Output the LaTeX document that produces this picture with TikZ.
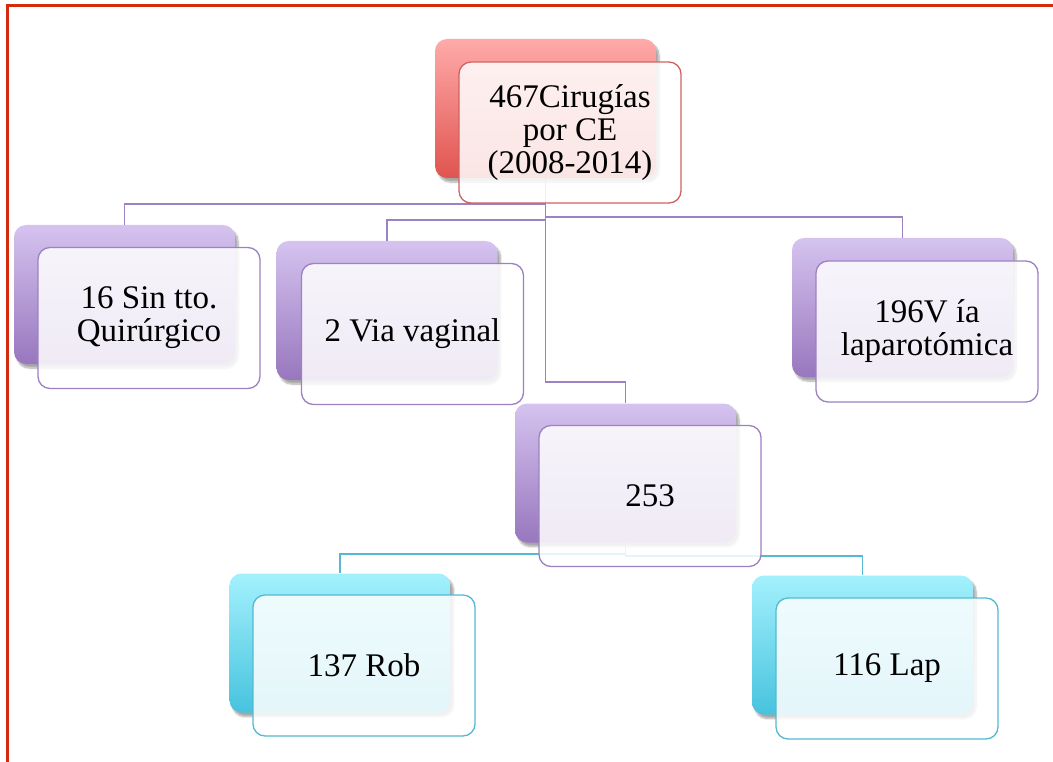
\documentclass[tikz,border=0pt]{standalone}
\usepackage{fontspec}
\setmainfont{Liberation Serif}
\usetikzlibrary{shadows.blur}

\definecolor{framered}{HTML}{D42A0E}
\definecolor{redtop}{HTML}{FFAAAA}
\definecolor{redbot}{HTML}{E0544E}
\definecolor{redline}{HTML}{D06262}
\definecolor{purtop}{HTML}{D5C3EF}
\definecolor{purbot}{HTML}{9877BE}
\definecolor{purline}{HTML}{9C82C2}
\definecolor{cyantop}{HTML}{A3F1FD}
\definecolor{cyanbot}{HTML}{47C3DE}
\definecolor{cyanline}{HTML}{55B9D2}

\tikzset{
  backbox/.style={rectangle, rounded corners=12pt, minimum width=221pt,
    minimum height=139pt, inner sep=0pt,
    blur shadow={shadow xshift=3pt, shadow yshift=-4pt, shadow blur steps=8,
      shadow opacity=35}},
  redback/.style={backbox, top color=redtop, bottom color=redbot},
  purback/.style={backbox, top color=purtop, bottom color=purbot},
  cyanback/.style={backbox, top color=cyantop, bottom color=cyanbot},
  frontbox/.style={rectangle, rounded corners=12pt, minimum width=222pt,
    minimum height=141pt, inner sep=0pt, line width=1.3pt, fill=white,
    fill opacity=0.85, text opacity=1, align=center,
    font=\fontsize{33}{33}\selectfont},
  redfront/.style={frontbox, draw=redline},
  purfront/.style={frontbox, draw=purline},
  cyanfront/.style={frontbox, draw=cyanline},
  purlink/.style={draw=purline, line width=1.6pt},
  cyanlink/.style={draw=cyanline, line width=1.6pt},
}

\begin{document}
\begin{tikzpicture}[x=1pt, y=-1pt]
\useasboundingbox (0,0) rectangle (1053,762);

% page frame
\draw[framered, line width=3pt] (1060,6) -- (7.5,6) -- (7.5,770);

% back cards
\node[redback]  (rootB) at (545.5,108.5) {};
\node[purback]  (sinB)  at (124.5,294.5) {};
\node[purback]  (vagB)  at (387,310.5) {};
\node[purback]  (larB)  at (902.5,307.5) {};
\node[purback]  (midB)  at (625.5,473) {};
\node[cyanback] (robB)  at (340,643) {};
\node[cyanback] (lapB)  at (862.5,645) {};

% connectors
\draw[purlink] (rootB.south) -- ++(0,26) -| (sinB.north);
\draw[purlink] (rootB.south) -- ++(0,42) -| (vagB.north);
\draw[purlink] (rootB.south) -- ++(0,39) -| (larB.north);
\draw[purlink] (rootB.south) -- ++(0,204) -| (midB.north);
\draw[cyanlink] (midB.south) -- ++(0,11) -| (robB.north);
\draw[cyanlink] (midB.south) -- ++(0,13) -| (lapB.north);

% front cards with the labels
\node[redfront]  (root) at (570,132.5) {467Cirugías\\por CE\\(2008-2014)};
\node[purfront]  (sin)  at (149,318)   {16 Sin tto.\\Quirúrgico};
\node[purfront]  (vag)  at (412.5,334) {2 Via vaginal};
\node[purfront]  (lar)  at (927,331.5) {196V ía\\laparotómica};
\node[purfront]  (mid)  at (650,496)   {253};
\node[cyanfront] (rob)  at (364,665.5) {137 Rob};
\node[cyanfront] (lap)  at (887,668.5) {116 Lap};
\end{tikzpicture}
\end{document}
